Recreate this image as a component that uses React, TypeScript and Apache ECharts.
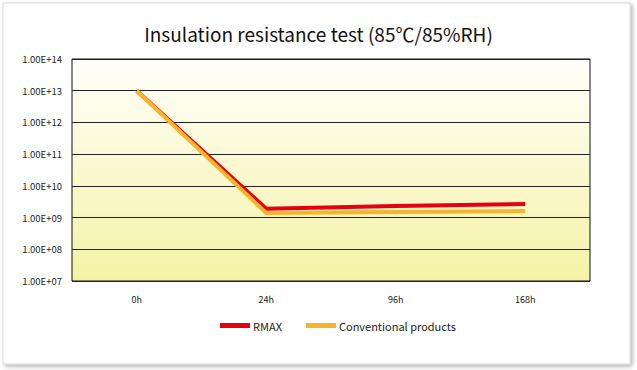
import React, { useEffect, useRef } from "react";
import * as echarts from "echarts";

const categories = ["0h", "24h", "96h", "168h"];
const rmaxValues = [1.0e13, 1.9e9, 2.3e9, 2.7e9];
const conventionalValues = [1.0e13, 1.4e9, 1.5e9, 1.6e9];
const seriesNames = ["RMAX", "Conventional products"];
const title = "Insulation resistance test (85℃/85%RH)";

export default function App() {
  const ref = useRef<HTMLDivElement>(null);
  useEffect(() => {
    if (!ref.current) return;
    const chart = echarts.init(ref.current, null, { renderer: "svg" });
    const font = "'Noto Sans CJK JP', 'Noto Sans', sans-serif";
    chart.setOption({
      animation: false,
      backgroundColor: "#ffffff",
      graphic: [
        {
          type: "rect",
          shape: { x: 3, y: 3, width: 627, height: 361 },
          style: {
            fill: "#ffffff",
            stroke: "#d8d8d8",
            lineWidth: 1,
            shadowBlur: 4,
            shadowOffsetX: 2,
            shadowOffsetY: 2,
            shadowColor: "rgba(0,0,0,0.3)",
          },
          z: -10,
          silent: true,
        },
      ],
      title: {
        text: title,
        left: "center",
        top: 19,
        textStyle: { fontFamily: font, fontSize: 19, fontWeight: "normal", color: "#111" },
      },
      legend: {
        top: 320,
        left: 220,
        padding: 0,
        itemWidth: 30,
        itemHeight: 5,
        itemGap: 24,
        icon: "rect",
        textStyle: { fontFamily: font, fontSize: 11, color: "#222", padding: [0, 0, 0, -2] },
        data: seriesNames,
      },
      grid: {
        left: 72,
        right: 47,
        top: 59,
        bottom: 89,
        show: true,
        borderColor: "#111",
        borderWidth: 1,
        backgroundColor: {
          type: "linear",
          x: 0,
          y: 0,
          x2: 0,
          y2: 1,
          colorStops: [
            { offset: 0, color: "#fffffb" },
            { offset: 1, color: "#f5f2a6" },
          ],
        },
      },
      xAxis: {
        type: "category",
        data: categories,
        boundaryGap: true,
        axisLine: { show: false },
        axisTick: { show: false },
        axisLabel: { fontFamily: font, fontSize: 9, color: "#222", margin: 14 },
      },
      yAxis: {
        type: "log",
        logBase: 10,
        min: 1e7,
        max: 1e14,
        interval: 1,
        axisLine: { show: false },
        axisTick: { show: false },
        splitLine: { show: true, lineStyle: { color: "#222", width: 1.2 } },
        axisLabel: {
          fontFamily: font,
          fontSize: 9.5,
          color: "#222",
          margin: 10,
          formatter: (v: number) => {
            const e = Math.round(Math.log10(v));
            return "1.00E+" + (e < 10 ? "0" + e : String(e));
          },
        },
      },
      series: [
        {
          name: seriesNames[0],
          type: "line",
          data: rmaxValues,
          showSymbol: false,
          symbol: "none",
          lineStyle: { color: "#e60012", width: 4 },
          itemStyle: { color: "#e60012" },
        },
        {
          name: seriesNames[1],
          type: "line",
          data: conventionalValues,
          showSymbol: false,
          symbol: "none",
          lineStyle: { color: "#f7b52b", width: 4 },
          itemStyle: { color: "#f7b52b" },
        },
      ],
    });
    return () => chart.dispose();
  }, []);
  return (
    <div style={{ position: "fixed", left: 0, top: 0, width: 637, height: 370, background: "#fff" }}>
      <div ref={ref} style={{ width: 637, height: 370 }} />
    </div>
  );
}
